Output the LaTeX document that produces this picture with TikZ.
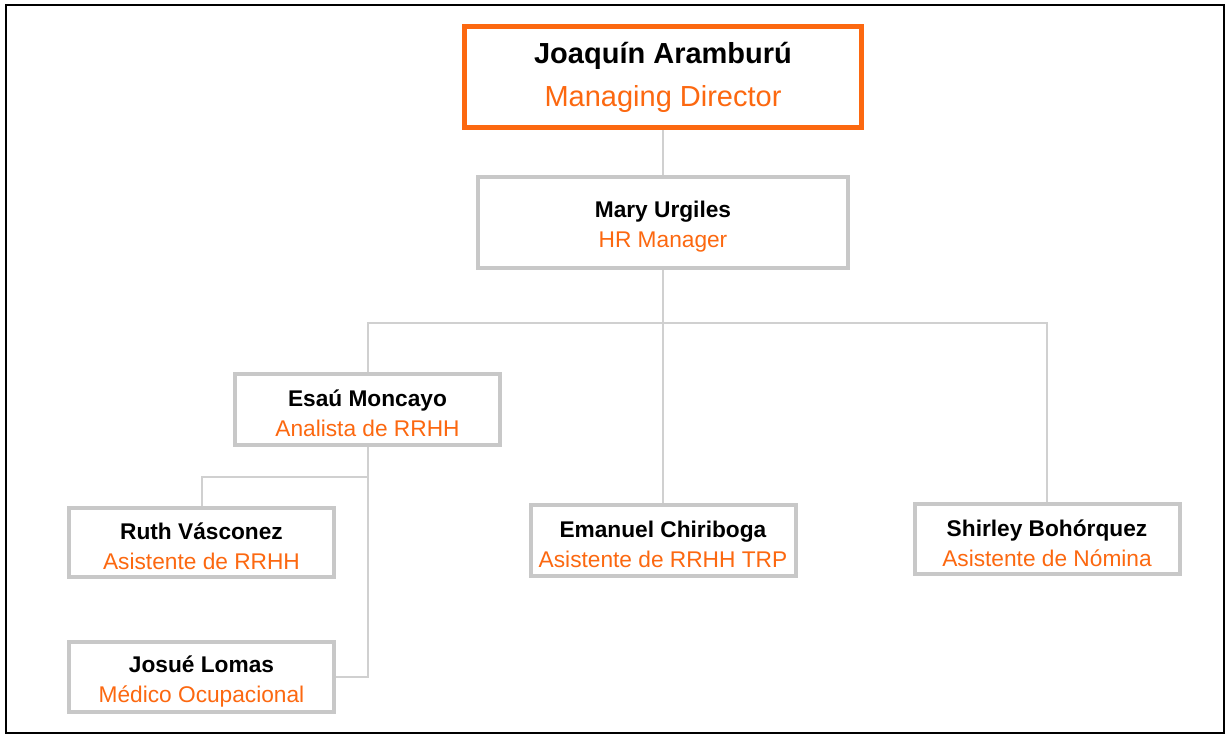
\documentclass[tikz,border=0pt]{standalone}
\usepackage{fontspec}
\setmainfont{Liberation Sans}
\usepackage{xcolor}
\usepackage{tikz}
\usetikzlibrary{positioning}
\definecolor{hrorange}{RGB}{252,104,16}
\definecolor{boxgray}{RGB}{200,200,200}
\definecolor{linegray}{RGB}{208,208,208}
\newcommand{\hrtop}{\rule{0pt}{25pt}}

\begin{document}
\begin{tikzpicture}[x=1pt,y=-1pt]
        \tikzstyle{head} = [rectangle, draw=hrorange, line width=4.5pt, fill=white, minimum width=397pt, minimum height=101pt, inner sep=0pt, align=center, font=\fontsize{29}{43}\selectfont]
        \tikzstyle{staff} = [rectangle, draw=boxgray, line width=4pt, fill=white, minimum width=265pt, minimum height=70pt, inner sep=0pt, align=center, font=\fontsize{22.7}{30}\selectfont]
        \tikzstyle{link} = [draw=linegray, line width=2pt]

        \useasboundingbox (0,0) rectangle (1226,736);
        \draw [line width=2.5pt] (6,5) rectangle (1224,733);

        \node (director) [head] at (663,77) {\textbf{Joaquín Aramburú}\\\textcolor{hrorange}{Managing Director}};
        \node (mary) [staff, minimum width=370pt, minimum height=91pt] at (663,222.5) {\hrtop\textbf{Mary Urgiles}\\\textcolor{hrorange}{HR Manager}};
        \node (esau) [staff, minimum height=71pt] at (367.5,409.5) {\hrtop\textbf{Esaú Moncayo}\\\textcolor{hrorange}{Analista de RRHH}};
        \node (ruth) [staff, minimum height=69pt] at (201.5,542.5) {\hrtop\textbf{Ruth Vásconez}\\\textcolor{hrorange}{Asistente de RRHH}};
        \node (josue) [staff] at (201.5,677) {\hrtop\textbf{Josué Lomas}\\\textcolor{hrorange}{Médico Ocupacional}};
        \node (emanuel) [staff, minimum height=71pt] at (663,540.5) {\hrtop\textbf{Emanuel Chiriboga}\\\textcolor{hrorange}{Asistente de RRHH TRP}};
        \node (shirley) [staff] at (1047,539) {\hrtop\textbf{Shirley Bohórquez}\\\textcolor{hrorange}{Asistente de Nómina}};

        \coordinate (hrbus) at (663,323);
        \coordinate (asbus) at (300,477);

        \draw [link] (director) -- (mary);
        \draw [link] (mary) -- (emanuel);
        \draw [link] (esau.north) |- (hrbus) -| (shirley.north);
        \draw [link] (esau.south) |- (asbus) -| (ruth.north);
        \draw [link] (esau.south) |- (josue.east);
    \end{tikzpicture}
\end{document}
